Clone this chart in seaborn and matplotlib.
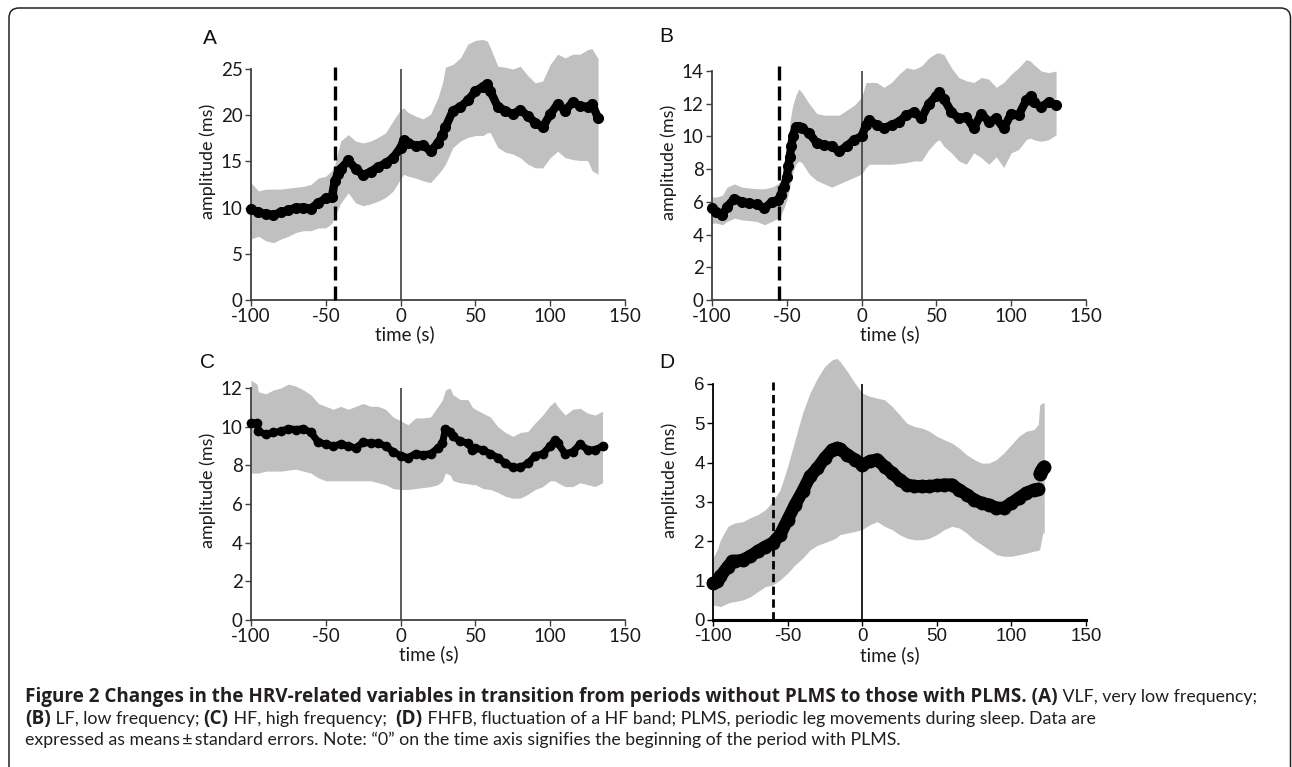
import matplotlib
matplotlib.use("Agg")
import matplotlib.pyplot as plt
from matplotlib.patches import FancyBboxPatch
import seaborn as sns

# ---- panel A: VLF ----
a_time = [-100, -95, -90, -85, -80, -75, -70, -65, -60, -55, -50, -46, -44, -42, -40, -35, -30, -25, -20, -15,
          -10, -5, 0, 2, 5, 10, 15, 20, 25, 28, 30, 35, 40, 45, 50, 55, 58, 60, 65, 70,
          75, 80, 85, 90, 95, 100, 105, 110, 115, 120, 125, 128, 132]
a_mean = [9.8, 9.5, 9.3, 9.2, 9.5, 9.7, 10.0, 10.0, 9.9, 10.5, 11.0, 11.1, 12.9, 13.6, 14.2, 15.1, 14.2, 13.5, 13.9, 14.4,
          14.8, 15.4, 16.5, 17.3, 17.0, 16.7, 16.8, 16.1, 17.0, 17.9, 18.7, 20.5, 20.9, 21.6, 22.6, 23.1, 23.4, 22.6, 20.9, 20.5,
          20.1, 20.6, 19.9, 19.2, 18.7, 20.1, 21.2, 20.5, 21.4, 21.0, 20.9, 21.2, 19.7]
a_hi = [12.7, 11.8, 12.0, 12.0, 12.0, 12.1, 12.2, 12.3, 12.5, 13.2, 13.4, 14.0, 14.6, 16.0, 17.2, 17.9, 17.2, 17.0, 17.2, 17.6,
        18.1, 19.4, 20.6, 20.8, 20.3, 19.9, 19.6, 20.1, 21.9, 23.5, 25.2, 25.5, 26.2, 27.7, 28.1, 28.2, 28.0, 27.3, 25.3, 25.2,
        25.0, 25.3, 24.3, 23.5, 23.7, 25.5, 26.6, 26.2, 26.6, 26.6, 27.1, 27.2, 26.1]
a_lo = [6.6, 6.9, 6.4, 6.2, 6.6, 6.9, 7.3, 7.5, 7.5, 7.8, 7.8, 8.3, 9.0, 9.8, 10.5, 11.6, 10.5, 10.2, 10.4, 10.7,
        11.1, 11.8, 13.1, 13.6, 13.4, 13.2, 12.9, 12.7, 13.6, 14.2, 14.7, 16.5, 17.2, 17.6, 17.8, 17.8, 18.1, 18.1, 16.5, 16.0,
        15.8, 15.4, 14.7, 14.3, 14.3, 15.4, 16.1, 15.4, 15.2, 15.1, 15.1, 14.0, 13.6]

# ---- panel B: LF ----
b_time = [-100, -97, -93, -90, -85, -80, -75, -70, -65, -60, -56, -54, -52, -50, -49, -48, -47, -46, -44, -42,
          -40, -35, -30, -25, -20, -15, -10, -5, 0, 3, 5, 10, 15, 20, 25, 30, 35, 40, 45, 50,
          52, 55, 60, 65, 70, 75, 80, 85, 90, 95, 100, 105, 110, 113, 115, 120, 125, 130]
b_mean = [5.6, 5.4, 5.2, 5.7, 6.2, 6.0, 5.9, 5.85, 5.6, 6.0, 6.1, 6.4, 6.9, 7.5, 8.2, 8.75, 9.4, 10.0, 10.6, 10.6,
          10.5, 10.2, 9.6, 9.5, 9.4, 9.1, 9.4, 9.8, 10.0, 10.7, 11.0, 10.7, 10.5, 10.7, 10.9, 11.3, 11.5, 11.1, 12.0, 12.5,
          12.7, 12.3, 11.5, 11.1, 11.2, 10.5, 11.4, 10.9, 11.1, 10.5, 11.4, 11.3, 12.2, 12.5, 12.1, 11.8, 12.1, 11.9]
b_hi = [6.3, 6.3, 6.4, 6.9, 7.1, 6.9, 6.85, 6.8, 6.8, 6.9, 7.1, 7.3, 7.8, 8.75, 9.6, 10.8, 11.4, 11.9, 12.5, 12.9,
        12.7, 12.0, 11.4, 11.3, 11.3, 11.3, 11.6, 11.9, 12.4, 13.3, 13.3, 13.3, 13.0, 13.3, 13.8, 14.2, 14.1, 14.3, 14.8, 15.1,
        15.1, 15.0, 14.2, 13.6, 13.4, 13.3, 13.6, 13.5, 13.0, 13.3, 13.8, 14.2, 14.7, 14.6, 14.4, 14.0, 13.9, 14.0]
b_lo = [4.7, 4.7, 4.6, 4.8, 5.0, 4.9, 4.85, 4.8, 4.6, 4.8, 5.0, 5.2, 5.6, 6.1, 6.5, 6.9, 7.4, 7.8, 8.3, 8.5,
        8.4, 7.7, 7.3, 7.1, 6.9, 7.1, 7.3, 7.5, 7.7, 8.1, 8.3, 8.3, 8.3, 8.3, 8.35, 8.4, 8.5, 8.5, 9.2, 9.7,
        9.8, 9.4, 9.0, 8.5, 8.3, 9.0, 8.7, 8.3, 8.75, 8.1, 9.0, 9.2, 9.8, 9.9, 9.8, 9.7, 9.8, 10.1]

# ---- panel C: HF ----
c_time = [-100, -96, -95, -90, -85, -80, -75, -70, -65, -60, -55, -50, -45, -40, -35, -30, -25, -20, -15, -10,
          -5, 0, 5, 10, 15, 20, 25, 28, 30, 33, 35, 40, 45, 48, 50, 55, 60, 65, 70, 75,
          80, 85, 90, 95, 100, 103, 105, 110, 115, 120, 125, 130, 135]
c_mean = [10.2, 10.2, 9.76, 9.6, 9.7, 9.76, 9.9, 9.85, 9.9, 9.7, 9.2, 9.1, 9.0, 9.1, 9.0, 8.9, 9.2, 9.15, 9.15, 9.0,
          8.7, 8.5, 8.4, 8.6, 8.55, 8.6, 8.9, 9.15, 9.9, 9.75, 9.5, 9.25, 9.15, 8.8, 8.9, 8.8, 8.6, 8.4, 8.1, 7.9,
          7.9, 8.1, 8.5, 8.6, 9.0, 9.3, 9.15, 8.6, 8.7, 9.1, 8.8, 8.8, 9.0]
c_hi = [12.4, 12.2, 11.8, 11.7, 11.9, 12.0, 12.2, 12.1, 11.9, 11.65, 11.2, 11.05, 10.9, 11.05, 10.9, 11.05, 11.2, 11.05, 11.05, 10.9,
        10.5, 10.3, 10.1, 10.45, 10.45, 10.5, 11.05, 11.4, 11.9, 12.0, 11.65, 11.4, 11.4, 11.0, 10.9, 10.7, 10.5, 10.0, 9.7, 9.5,
        9.7, 9.75, 10.2, 10.6, 11.1, 11.3, 11.05, 10.6, 10.9, 10.95, 10.7, 10.6, 10.8]
c_lo = [7.6, 7.6, 7.6, 7.7, 7.7, 7.7, 7.75, 7.8, 7.7, 7.6, 7.35, 7.2, 7.2, 7.2, 7.2, 7.2, 7.2, 7.2, 7.1, 7.0,
        6.8, 6.75, 6.75, 6.8, 6.85, 6.9, 7.0, 7.2, 7.6, 7.5, 7.2, 7.1, 7.05, 7.0, 7.0, 6.8, 6.75, 6.6, 6.4, 6.3,
        6.3, 6.5, 6.75, 6.9, 7.2, 7.2, 7.1, 6.9, 6.9, 7.1, 7.0, 6.9, 7.1]

# ---- panel D: FHFB ----
d_time = [-100, -97, -95, -90, -87, -85, -80, -75, -70, -65, -60, -55, -50, -45, -40, -35, -30, -25, -20, -17,
          -15, -10, -5, 0, 5, 10, 15, 20, 25, 30, 35, 40, 45, 50, 55, 60, 65, 70, 75, 80,
          85, 90, 95, 100, 105, 110, 115, 118]
d_mean = [0.94, 0.98, 1.11, 1.36, 1.49, 1.49, 1.53, 1.62, 1.75, 1.86, 1.96, 2.17, 2.55, 2.93, 3.27, 3.65, 3.86, 4.12, 4.33, 4.37,
          4.35, 4.2, 4.08, 3.95, 4.03, 4.08, 3.9, 3.74, 3.57, 3.44, 3.4, 3.4, 3.4, 3.42, 3.44, 3.44, 3.31, 3.19, 3.06, 2.97,
          2.93, 2.85, 2.85, 2.97, 3.1, 3.23, 3.31, 3.33]
d_hi = [1.58, 1.8, 2.04, 2.38, 2.44, 2.47, 2.5, 2.6, 2.68, 2.8, 3.02, 3.31, 3.9, 4.58, 5.26, 5.77, 6.15, 6.45, 6.62, 6.65,
        6.58, 6.32, 6.03, 5.77, 5.69, 5.64, 5.6, 5.43, 5.22, 5.0, 4.92, 4.88, 4.8, 4.67, 4.58, 4.5, 4.37, 4.2, 4.08, 3.99,
        3.99, 4.08, 4.25, 4.46, 4.67, 4.8, 4.84, 4.97]
d_lo = [0.38, 0.36, 0.34, 0.43, 0.46, 0.47, 0.51, 0.59, 0.72, 0.85, 0.89, 1.02, 1.19, 1.4, 1.57, 1.78, 1.9, 1.97, 2.04, 2.1,
        2.17, 2.21, 2.25, 2.3, 2.42, 2.5, 2.38, 2.3, 2.17, 2.08, 2.04, 2.04, 2.08, 2.17, 2.3, 2.38, 2.34, 2.21, 2.04, 1.92,
        1.79, 1.66, 1.62, 1.62, 1.66, 1.7, 1.75, 1.77]
# short separate segment at the end of D
d_tail_time = [119, 120, 121, 122]
d_tail_mean = [3.72, 3.78, 3.86, 3.9]
d_tail_hi = [5.47, 5.5, 5.52, 5.52]
d_tail_lo = [1.8, 2.0, 2.21, 2.21]

x_ticks = [-100, -50, 0, 50, 100, 150]
x_labels = ['-100', '-50', '0', '50', '100', '150']

sns.set_style("ticks")
plt.rcParams['font.family'] = ['Lato', 'DejaVu Sans']
plt.rcParams['axes.unicode_minus'] = False

W, H = 1292, 767
fig = plt.figure(figsize=(W / 100, H / 100), dpi=100)

GREY = '#c0c0c0'
AXC = '#404040'


def add_ax(left, top, right, bottom):
    return fig.add_axes([left / W, 1 - bottom / H, (right - left) / W, (bottom - top) / H])


def panel(ax, t, mean, lo, hi, ymax, ystep, lw, ms, tickfont, axc, xlab_x, ylab_y):
    ax.fill_between(t, lo, hi, color=GREY, lw=0, clip_on=False, zorder=1)
    sns.lineplot(x=t, y=mean, ax=ax, color='black', lw=lw, marker='o', ms=ms, mew=0,
                 estimator=None, sort=False, clip_on=False, zorder=4)
    ax.axvline(0, color=axc, lw=1.2, zorder=2)
    ax.set_xlim(-100, 150)
    ax.set_ylim(0, ymax)
    ax.set_xticks(x_ticks)
    ax.set_xticklabels(x_labels, family=tickfont)
    yt = list(range(0, ymax + 1, ystep))
    ax.set_yticks(yt)
    ax.set_yticklabels([str(v) for v in yt], family=tickfont)
    ax.tick_params(labelsize=13.5, length=4, width=1.0, color=axc, labelcolor='#1a1a1a', pad=2)
    sns.despine(ax=ax)
    for s in ['left', 'bottom']:
        ax.spines[s].set_color(axc)
        ax.spines[s].set_linewidth(1.3)
    ax.set_xlabel('time (s)', fontsize=13.5, color='#1a1a1a')
    ax.set_ylabel('amplitude (ms)', fontsize=13, color='#1a1a1a')
    ax.xaxis.set_label_coords(xlab_x, -0.11)
    ax.yaxis.set_label_coords(-0.093, ylab_y)
    ax.patch.set_alpha(0)


axA = add_ax(251, 69, 625, 300)
panel(axA, a_time, a_mean, a_lo, a_hi, 25, 5, 6, 8, 'Lato', AXC, 0.41, 0.6)
axA.axvline(-44, 0, 25.2 / 25, color='black', lw=2.4, dashes=(4.2, 1.8), clip_on=False, zorder=3)

axB = add_ax(712, 71, 1086, 300)
panel(axB, b_time, b_mean, b_lo, b_hi, 14, 2, 6, 8, 'Lato', AXC, 0.475, 0.6)
axB.axvline(-55, 0, 14.6 / 14, color='black', lw=2.4, dashes=(4.2, 1.8), clip_on=False, zorder=3)

axC = add_ax(251, 388, 625, 620)
panel(axC, c_time, c_mean, c_lo, c_hi, 12, 2, 5, 7, 'Lato', AXC, 0.475, 0.56)

axD = add_ax(713, 384, 1086, 620)
panel(axD, d_time + d_tail_time, d_mean + [float('nan')] * 4, d_lo + d_tail_lo, d_hi + d_tail_hi,
      6, 1, 9, 10, 'Liberation Sans', 'black', 0.475, 0.59)
sns.lineplot(x=d_tail_time, y=d_tail_mean, ax=axD, color='black', lw=9, marker='o', ms=10, mew=0,
             estimator=None, sort=False, clip_on=False, zorder=4)
axD.spines['bottom'].set_linewidth(2.2)
axD.axvline(-60, 0, 6.04 / 6, color='black', lw=2.0, dashes=(3, 1.6), clip_on=False, zorder=3)

for lab, x, y in [('A', 203, 38), ('B', 659, 37), ('C', 200, 362), ('D', 659, 362)]:
    fig.text(x / W, 1 - y / H, lab, fontsize=15, family='Liberation Sans', va='center', ha='left', color='#111')

# caption, mixed bold / regular runs
cap_lines = [
    [('Figure 2 Changes in the HRV-related variables in transition from periods without PLMS to those with PLMS. (A)', True),
     (' VLF, very low frequency;', False)],
    [('(B)', True), (' LF, low frequency; ', False), ('(C)', True), (' HF, high frequency;  ', False), ('(D)', True),
     (' FHFB, fluctuation of a HF band; PLMS, periodic leg movements during sleep. Data are', False)],
    [('expressed as means\u2009\u00b1\u2009standard errors. Note: \u201c0\u201d on the time axis signifies the beginning of the period with PLMS.', False)],
]
cap_y = [697, 719, 740]
renderer = fig.canvas.get_renderer()
for runs, yy in zip(cap_lines, cap_y):
    x = 25
    for txt, bold in runs:
        if bold:
            tt = fig.text(x / W, 1 - yy / H, txt, fontsize=13.6, family=['Open Sans', 'DejaVu Sans'],
                          fontweight='bold', va='center', ha='left', color='#231f20')
        else:
            tt = fig.text(x / W, 1 - yy / H, txt, fontsize=12.8, family=['Lato', 'DejaVu Sans'],
                          va='center', ha='left', color='#231f20')
        x = tt.get_window_extent(renderer=renderer).x1

frame = FancyBboxPatch((0.09, -0.3), 12.815, 7.89, boxstyle='round,pad=0,rounding_size=0.1',
                       transform=fig.dpi_scale_trans, fc='none', ec='#222222', lw=1.1)
fig.add_artist(frame)

fig.savefig('out.png', dpi=100)
